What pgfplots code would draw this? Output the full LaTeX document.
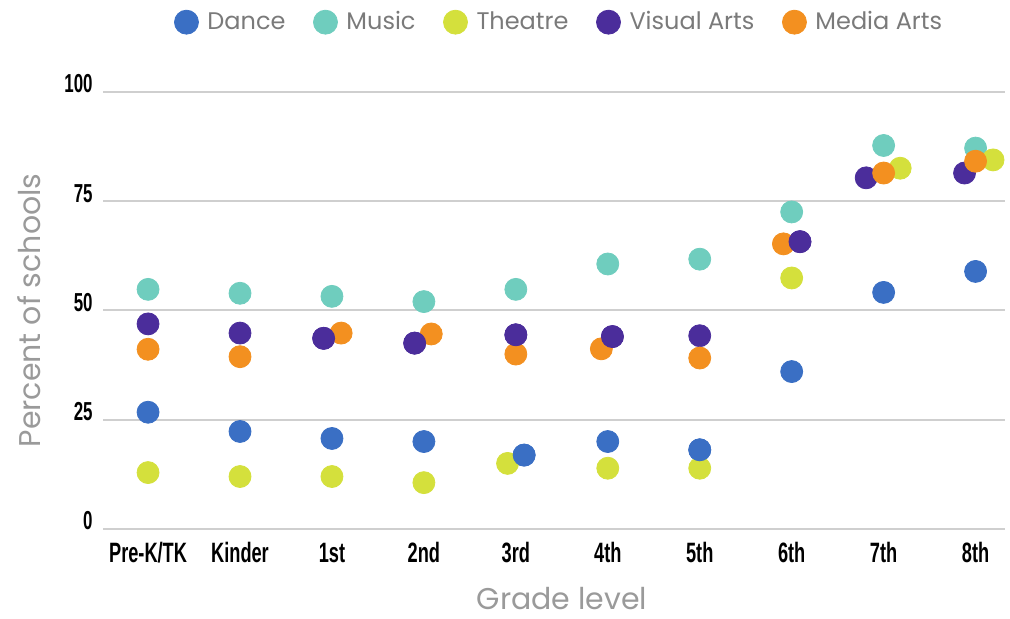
\documentclass[border=0pt]{standalone}
\usepackage{fontspec}
\setmainfont{Poppins}
\newfontfamily\condfont[FakeStretch=0.65]{Liberation Sans}
\usepackage{pgfplots}
\pgfplotsset{compat=1.18}
\definecolor{cDance}{HTML}{3A6FC4}
\definecolor{cMusic}{HTML}{6FCDBE}
\definecolor{cTheatre}{HTML}{D4E03C}
\definecolor{cVisual}{HTML}{4B2D9B}
\definecolor{cMedia}{HTML}{F39020}
\definecolor{gridc}{HTML}{CFCFCF}
\definecolor{legtext}{HTML}{7A7A7A}
\definecolor{labtext}{HTML}{9A9A9A}
\begin{document}
\begin{tikzpicture}
\useasboundingbox (0,0) rectangle (505pt,309.5pt);
\begin{axis}[
  at={(51.5pt,45pt)}, anchor=south west,
  scale only axis, width=451pt, height=218.65pt,
  xmin=-0.49, xmax=9.32, ymin=0, ymax=100,
  clip=false,
  axis line style={draw=none},
  major tick length=0pt,
  ytick={0,25,50,75,100},
  ymajorgrids, grid style={gridc, line width=1pt},
  xtick={0,...,9},
  xticklabels={Pre-K/TK,Kinder,1st,2nd,3rd,4th,5th,6th,7th,8th},
  /pgf/number format/assume math mode=true,
  xticklabel style={font=\condfont\bfseries\fontsize{14pt}{16pt}\selectfont, anchor=base, yshift=-17pt, inner sep=0pt},
  yticklabel style={font=\condfont\bfseries\fontsize{13pt}{15pt}\selectfont, anchor=base east, xshift=-5pt, yshift=-0.5pt, inner sep=0pt},
  xlabel={Grade level}, ylabel={Percent of schools},
  xlabel style={at={(axis description cs:0.509,-0.16)}, anchor=center, inner sep=0pt, font=\fontsize{15pt}{17pt}\selectfont, text=labtext},
  ylabel style={at={(axis description cs:-0.082,0.5)}, anchor=center, inner sep=0pt, rotate=0, font=\fontsize{15pt}{17pt}\selectfont, text=labtext},
  legend columns=5,
  legend style={at={(axis description cs:0.507,1.159)}, anchor=center, draw=none, fill=none,
    font=\fontsize{12pt}{14pt}\selectfont, text=legtext,
    /tikz/every odd column/.style={column sep=2.5pt},
    /tikz/every even column/.style={column sep=12pt}},
  legend image code/.code={\draw[#1, mark size=6pt] plot coordinates {(0pt,0pt)};},
  every axis plot/.append style={only marks, mark=*, mark size=5.5pt},
]
\addplot[cDance, mark options={draw=cDance, fill=cDance}] coordinates {(0,26.7) (1,22.3) (2,20.7) (3,20.0) (4.09,16.9) (5,20.0) (6,18.1) (7,36.0) (8,54.1) (9,58.9)};
\addlegendentry{Dance}
\addplot[cMusic, mark options={draw=cMusic, fill=cMusic}] coordinates {(0,54.8) (1,53.9) (2,53.2) (3,52.0) (4,54.8) (5,60.6) (6,61.7) (7,72.5) (8,87.7) (9,87.1)};
\addlegendentry{Music}
\addplot[cTheatre, mark options={draw=cTheatre, fill=cTheatre}] coordinates {(0,12.9) (1,12.0) (2,12.0) (3,10.6) (3.91,15.0) (5,13.9) (6,13.9) (7,57.4) (8.18,82.5) (9.19,84.4)};
\addlegendentry{Theatre}
\addplot[cVisual, mark options={draw=cVisual, fill=cVisual}] coordinates {(0,46.9) (1,44.8) (1.91,43.6) (2.9,42.5) (4,44.4) (5.05,44.0) (6,44.2) (7.09,65.7) (7.81,80.3) (8.88,81.4)};
\addlegendentry{Visual Arts}
\addplot[cMedia, mark options={draw=cMedia, fill=cMedia}] coordinates {(0,41.1) (1,39.4) (2.1,44.8) (3.08,44.6) (4,40.0) (4.93,41.2) (6,39.1) (6.91,65.2) (8,81.4) (9,84.1)};
\addlegendentry{Media Arts}
% points drawn on top where circles overlap
\addplot[forget plot, cDance, mark options={draw=cDance, fill=cDance}] coordinates {(4.09,16.9) (6,18.1)};
\addplot[forget plot, cVisual, mark options={draw=cVisual, fill=cVisual}] coordinates {(1.91,43.6) (2.9,42.5) (4,44.4) (5.05,44.0) (7.09,65.7)};
\end{axis}
\end{tikzpicture}
\end{document}
